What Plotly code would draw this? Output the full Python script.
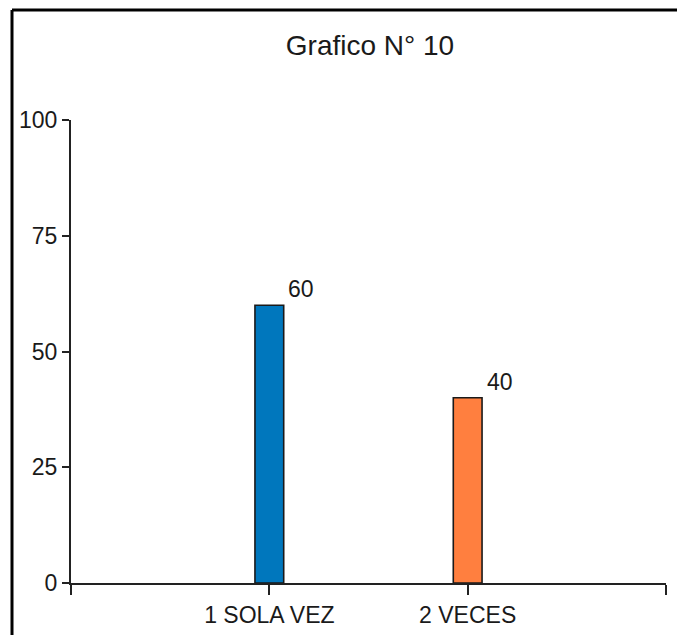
import plotly.graph_objects as go

categories = ["1 SOLA VEZ", "2 VECES"]
values = [60, 40]
colors = ["#0077BD", "#FF7F3F"]
y_ticks = [0, 25, 50, 75, 100]
title_text = "Grafico N° 10"

W, H = 685, 635
OFF = 8  # default body margin of the page
ml, mr, mt, mb = 71 - OFF, 19 + OFF, 120 - OFF, 52 + OFF

xpos = [i + 1 for i in range(len(categories))]

fig = go.Figure()
fig.add_trace(go.Bar(
    x=xpos, y=values, width=0.145,
    marker=dict(color=colors, line=dict(color="#1a1a1a", width=1.6)),
    hoverinfo="skip",
))

for xv, v in zip(xpos, values):
    fig.add_annotation(x=xv, y=v, text=str(v), showarrow=False,
                       xshift=32, yshift=16,
                       font=dict(family="Liberation Sans, Arial", size=23, color="#1a1a1a"))

pw = W - ml - mr
ph = H - mt - mb
def px_x(p):
    return (p - OFF - ml) / pw
def px_y(p):
    return (H - mb - (p - OFF)) / ph

# outer frame (left and top visible)
fx, fy = 12, 10
fig.add_shape(type="line", xref="paper", yref="paper",
              x0=px_x(fx), y0=px_y(fy), x1=px_x(W + 20), y1=px_y(fy),
              line=dict(color="black", width=3))
fig.add_shape(type="line", xref="paper", yref="paper",
              x0=px_x(fx), y0=px_y(fy), x1=px_x(fx), y1=px_y(H + 20),
              line=dict(color="black", width=3))

fig.update_layout(
    width=W, height=H,
    margin=dict(l=ml, r=mr, t=mt, b=mb),
    paper_bgcolor="white", plot_bgcolor="white",
    showlegend=False,
    title=dict(text=title_text, x=(370 - OFF) / W, xanchor="center",
               y=1 - (45 - OFF) / H, yanchor="middle",
               font=dict(family="Liberation Sans, Arial", size=28, color="#1a1a1a")),
    font=dict(family="Liberation Sans, Arial", size=23, color="#1a1a1a"),
)
fig.update_xaxes(
    range=[0, len(categories) + 1],
    tickvals=[0] + xpos + [len(categories) + 1],
    ticktext=[""] + categories + [""],
    ticks="outside", ticklen=10, tickwidth=2, tickcolor="#222222",
    showline=True, linecolor="#222222", linewidth=2,
    showgrid=False, zeroline=False,
    tickfont=dict(size=23),
)
fig.update_yaxes(
    range=[0, 100],
    tickvals=y_ticks,
    ticks="outside", ticklen=7, tickwidth=2, tickcolor="#222222",
    showline=True, linecolor="#222222", linewidth=2,
    showgrid=False, zeroline=False,
    tickfont=dict(size=23),
)

fig.write_html("out.html")
